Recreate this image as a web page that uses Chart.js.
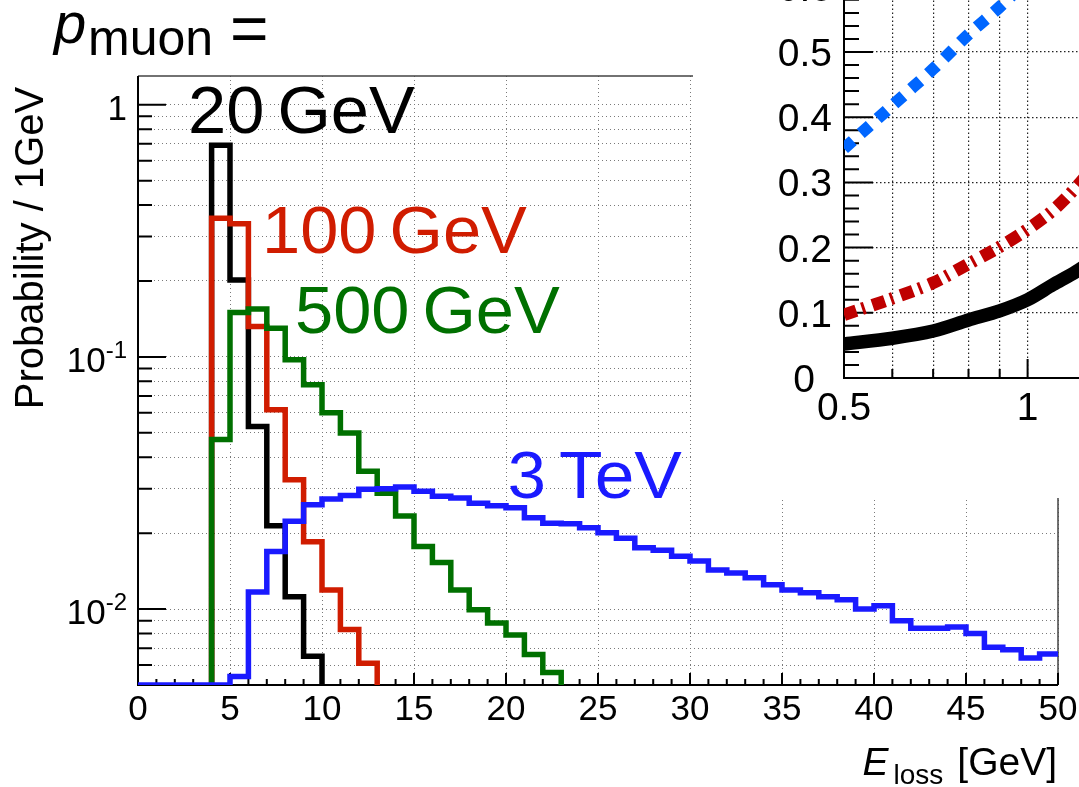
<!DOCTYPE html>
<html>
<head>
<meta charset="utf-8">
<script src="https://cdn.jsdelivr.net/npm/chart.js@4.4.0/dist/chart.umd.min.js"></script>
<style>
  html, body { margin: 0; padding: 0; background: #fff; overflow: hidden; }
  #wrap { position: relative; width: 1079px; height: 787px; overflow: hidden; background: #fff; }
  #main { position: absolute; left: 0; top: 0; }
  #inset { position: absolute; left: 693px; top: -150px; }
</style>
</head>
<body>
<div id="wrap">
  <canvas id="main" width="1079" height="787"></canvas>
  <canvas id="inset" width="520" height="648"></canvas>
</div>
<script>
// Energy loss histograms, 1 GeV bins from 0 to 50 GeV (null = empty bin)
const binLow = 0;
const binWidth = 1;
const nBins = 50;

const prob20GeV = [null, null, null, null, 0.69, 0.202, 0.053, 0.0214, 0.0112, 0.0065];
const prob100GeV = [null, null, null, null, 0.355, 0.337, 0.132, 0.0617, 0.0326, 0.0185, 0.0119, 0.0083, 0.0061];
const prob500GeV = [null, null, null, null, 0.047, 0.150, 0.155, 0.130, 0.0975, 0.0776, 0.060, 0.0499, 0.0352,
  0.0288, 0.0234, 0.0177, 0.0153, 0.0119, 0.00995, 0.0088, 0.0079, 0.0066, 0.0056];
const prob3TeV = [0.005, 0.005, 0.005, 0.005, 0.005, 0.0054, 0.0117, 0.0169, 0.0223, 0.0259, 0.0273, 0.0282,
  0.0299, 0.0300, 0.0305, 0.0293, 0.0280, 0.0276, 0.0263, 0.0257, 0.0252, 0.0230, 0.0219, 0.0218, 0.0210,
  0.0201, 0.0191, 0.0175, 0.0171, 0.0162, 0.0155, 0.0143, 0.0139, 0.0133, 0.0125, 0.0119, 0.0116, 0.0112,
  0.0109, 0.0100, 0.0103, 0.0090, 0.0084, 0.0084, 0.0085, 0.0080, 0.00705, 0.0069, 0.0064, 0.00664];

const yMin = 0.005;
const yMax = 1.3;
const yGridValues = [0.005, 0.006, 0.007, 0.008, 0.009,
  0.01, 0.02, 0.03, 0.04, 0.05, 0.06, 0.07, 0.08, 0.09,
  0.1, 0.2, 0.3, 0.4, 0.5, 0.6, 0.7, 0.8, 0.9, 1];
const yLabelValues = [1, 0.1, 0.01];
const yLabelBase = ['1', '10', '10'];
const yLabelExp = ['', '-1', '-2'];
const xTickValues = [0, 5, 10, 15, 20, 25, 30, 35, 40, 45, 50];

// Curve labels: number, unit and anchor (GeV, probability)
const seriesNames = ['20', '100', '500', '3'];
const seriesUnits = ['GeV', 'GeV', 'GeV', 'TeV'];
const nameX = [2.72, 6.74, 8.53, 20.1];
const nameY = [0.772, 0.258, 0.1244, 0.0275];

// Inset curves
const insetX = [0.5, 0.6, 0.7, 0.8, 0.9, 1.0, 1.1, 1.2, 1.3];
const insetBlack = [0.052, 0.061, 0.072, 0.089, 0.103, 0.12, 0.143, 0.163, 0.185];
const insetRed = [0.097, 0.122, 0.146, 0.175, 0.201, 0.228, 0.257, 0.292, 0.33];
const insetBlue = [0.352, 0.418, 0.474, 0.527, 0.569, 0.61, 0.65, 0.69, 0.73];
const insetYTicks = [0, 0.1, 0.2, 0.3, 0.4, 0.5, 0.6, 0.7, 0.8];
const insetXGrid = [0.5, 0.6, 0.7, 0.8, 0.9, 1, 2];
const insetXLabels = [0.5, 1, 2];

const FONT = '"Liberation Sans", Arial, Helvetica, sans-serif';
const C_BLACK = '#000000';
const C_RED = '#d01c00';
const C_GREEN = '#007000';
const C_BLUE = '#1a1aff';

// histogram outline: step through each bin, dropping to the axis floor at the ends
function outline(values) {
  const pts = [];
  let first = values.findIndex(v => v != null);
  let last = values.length - 1;
  while (values[last] == null) last--;
  const clamp = v => Math.max(v, yMin);
  if (values[first] > yMin) pts.push({ x: binLow + first * binWidth, y: yMin });
  for (let i = first; i <= last; i++) {
    const x0 = binLow + i * binWidth;
    pts.push({ x: x0, y: clamp(values[i]) }, { x: x0 + binWidth, y: clamp(values[i]) });
  }
  if (last < nBins - 1) pts.push({ x: binLow + (last + 1) * binWidth, y: yMin });
  return pts;
}

function histo(values, color) {
  return {
    data: outline(values),
    borderColor: color,
    borderWidth: 5.5,
    pointRadius: 0,
    fill: false,
    tension: 0,
    borderJoinStyle: 'miter',
    borderCapStyle: 'butt'
  };
}

function text(ctx, str, x, y, size, color, align, italic) {
  ctx.font = (italic ? 'italic ' : '') + size + 'px ' + FONT;
  ctx.fillStyle = color;
  ctx.textAlign = align || 'left';
  ctx.textBaseline = 'alphabetic';
  ctx.fillText(str, x, y);
}

// slightly widened text for the big curve labels
function wideText(ctx, str, x, y, size, color, stretch) {
  ctx.save();
  ctx.translate(x, y);
  ctx.scale(stretch, 1);
  text(ctx, str, 0, 0, size, color, 'left');
  ctx.restore();
  ctx.font = size + 'px ' + FONT;
  return ctx.measureText(str).width * stretch;
}

const mainFrame = {
  id: 'mainFrame',
  beforeDatasetsDraw(chart) {
    const { ctx, chartArea: a, scales: { x, y } } = chart;
    ctx.save();
    ctx.strokeStyle = '#444';
    ctx.lineWidth = 1.5;
    ctx.beginPath();
    ctx.moveTo(a.left, a.top);
    ctx.lineTo(a.right, a.top);
    ctx.lineTo(a.right, a.bottom);
    ctx.stroke();

    ctx.strokeStyle = '#000';
    ctx.lineWidth = 2;
    ctx.beginPath();
    yGridValues.forEach(v => {
      const py = y.getPixelForValue(v);
      const len = yLabelValues.includes(v) ? 28 : 14;
      ctx.moveTo(a.left, py);
      ctx.lineTo(a.left + len, py);
    });
    for (let v = 0; v <= 50; v++) {
      const px = x.getPixelForValue(v);
      const len = v % 5 === 0 ? 12 : 6;
      ctx.moveTo(px, a.bottom);
      ctx.lineTo(px, a.bottom - len);
    }
    ctx.stroke();

    ctx.beginPath();
    ctx.moveTo(a.left, a.top);
    ctx.lineTo(a.left, a.bottom);
    ctx.lineTo(a.right, a.bottom);
    ctx.stroke();
    ctx.restore();
  },
  afterDatasetsDraw(chart) {
    const { ctx, chartArea: a, scales: { x, y } } = chart;
    ctx.save();
    // y tick labels (powers of ten)
    yLabelValues.forEach((v, i) => {
      const py = y.getPixelForValue(v);
      let right = a.left - 11;
      if (yLabelExp[i]) {
        ctx.font = '24px ' + FONT;
        const w = ctx.measureText(yLabelExp[i]).width;
        text(ctx, yLabelExp[i], right, py + 1, 24, '#000', 'right');
        right -= w;
      }
      text(ctx, yLabelBase[i], right, py + 15, 35, '#000', 'right');
    });
    // x tick labels
    xTickValues.forEach(v => {
      text(ctx, String(v), x.getPixelForValue(v), 720, 35, '#000', 'center');
    });

    // y axis title
    ctx.save();
    ctx.translate(43, 248);
    ctx.rotate(-Math.PI / 2);
    text(ctx, 'Probability / 1GeV', 0, 0, 40, '#000', 'center');
    ctx.restore();

    // x axis title: E_loss [GeV]
    const right = a.right - 1;
    ctx.font = '39px ' + FONT;
    const wUnit = ctx.measureText('[GeV]').width;
    text(ctx, '[GeV]', right, 775, 39, '#000', 'right');
    const lossRight = right - wUnit - 14;
    ctx.font = '28px ' + FONT;
    const wLoss = ctx.measureText('loss').width;
    text(ctx, 'loss', lossRight, 784, 28, '#000', 'right');
    text(ctx, 'E', lossRight - wLoss - 5, 775, 39, '#000', 'right', true);

    // momentum header
    text(ctx, 'p', 54, 43, 58, '#000', 'left', true);
    text(ctx, 'muon', 88, 55, 50, '#000', 'left');
    text(ctx, '=', 230, 51, 66, '#000', 'left');

    // curve labels
    const colors = [C_BLACK, C_RED, C_GREEN, C_BLUE];
    seriesNames.forEach((n, i) => {
      const px = x.getPixelForValue(nameX[i]);
      const py = y.getPixelForValue(nameY[i]);
      const w = wideText(ctx, n, px, py, 66, colors[i], 1.04);
      wideText(ctx, seriesUnits[i], px + w + 13, py, 66, colors[i], seriesUnits[i] === 'TeV' ? 1.08 : 1.04);
    });
    ctx.restore();
  }
};

new Chart(document.getElementById('main').getContext('2d'), {
  type: 'line',
  data: {
    datasets: [
      histo(prob3TeV, C_BLUE),
      histo(prob500GeV, C_GREEN),
      histo(prob100GeV, C_RED),
      histo(prob20GeV, C_BLACK)
    ]
  },
  options: {
    responsive: false,
    animation: false,
    events: [],
    layout: { padding: { left: 0, top: 76, right: 21, bottom: 0 } },
    plugins: { legend: { display: false }, tooltip: { enabled: false } },
    scales: {
      x: {
        type: 'linear',
        min: 0,
        max: 50,
        afterBuildTicks(s) { s.ticks = xTickValues.map(v => ({ value: v })); },
        afterFit(s) { s.height = 102; },
        ticks: { display: false },
        grid: { color: '#7a7a7a', lineWidth: 1, drawTicks: false },
        border: { display: false, dash: [1, 3] }
      },
      y: {
        type: 'logarithmic',
        min: yMin,
        max: yMax,
        afterBuildTicks(s) { s.ticks = yGridValues.map(v => ({ value: v })); },
        afterFit(s) { s.width = 138; },
        ticks: { display: false },
        grid: { color: '#7a7a7a', lineWidth: 1, drawTicks: false },
        border: { display: false, dash: [1, 3] }
      }
    }
  },
  plugins: [mainFrame]
});

// ---- inset ----
const insetFrame = {
  id: 'insetFrame',
  beforeDraw(chart) {
    const { ctx, width, height } = chart;
    ctx.save();
    ctx.fillStyle = '#fff';
    ctx.fillRect(0, 0, width, height);
    ctx.restore();
  },
  beforeDatasetsDraw(chart) {
    const { ctx, chartArea: a, scales: { x, y } } = chart;
    ctx.save();
    ctx.strokeStyle = '#000';
    ctx.lineWidth = 2;
    ctx.beginPath();
    for (let v = 0; v <= 80; v += 2) {
      const py = y.getPixelForValue(v / 100);
      const len = v % 10 === 0 ? 29 : 15;
      ctx.moveTo(a.left, py);
      ctx.lineTo(a.left + len, py);
    }
    insetXGrid.forEach(v => {
      const px = x.getPixelForValue(v);
      const len = insetXLabels.includes(v) ? 19 : 9;
      ctx.moveTo(px, a.bottom);
      ctx.lineTo(px, a.bottom - len);
    });
    ctx.stroke();
    ctx.beginPath();
    ctx.moveTo(a.left, a.top);
    ctx.lineTo(a.left, a.bottom);
    ctx.lineTo(a.right, a.bottom);
    ctx.stroke();
    ctx.restore();
  },
  afterDatasetsDraw(chart) {
    const { ctx, chartArea: a, scales: { x, y } } = chart;
    ctx.save();
    insetYTicks.forEach(v => {
      const py = y.getPixelForValue(v);
      if (v === 0) text(ctx, '0', a.left - 29, py + 14, 39, '#000', 'right');
      else text(ctx, v.toFixed(1), a.left - 12, py + 14, 39, '#000', 'right');
    });
    insetXLabels.forEach(v => {
      text(ctx, String(v), x.getPixelForValue(v), a.bottom + 42, 39, '#000', 'center');
    });
    ctx.restore();
  }
};

function insetLine(values, color, width, dash) {
  return {
    data: insetX.map((v, i) => ({ x: v, y: values[i] })),
    borderColor: color,
    borderWidth: width,
    borderDash: dash,
    pointRadius: 0,
    fill: false,
    tension: 0.3,
    borderCapStyle: 'butt'
  };
}

new Chart(document.getElementById('inset').getContext('2d'), {
  type: 'line',
  data: {
    datasets: [
      insetLine(insetBlue, '#0066ff', 12, [12, 10.5]),
      insetLine(insetRed, '#bf0000', 12.5, [13, 6, 3, 8]),
      insetLine(insetBlack, '#000000', 13.5, [])
    ]
  },
  options: {
    responsive: false,
    animation: false,
    events: [],
    layout: { padding: { left: 0, top: 6.4, right: 1.8, bottom: 0 } },
    plugins: { legend: { display: false }, tooltip: { enabled: false } },
    scales: {
      x: {
        type: 'logarithmic',
        min: 0.5,
        max: 2,
        afterBuildTicks(s) { s.ticks = insetXGrid.map(v => ({ value: v })); },
        afterFit(s) { s.height = 120; },
        ticks: { display: false },
        grid: { color: '#222', lineWidth: 1.2, drawTicks: false },
        border: { display: false, dash: [1.5, 2.5] }
      },
      y: {
        type: 'linear',
        min: 0,
        max: 0.8,
        afterBuildTicks(s) { s.ticks = insetYTicks.map(v => ({ value: v })); },
        afterFit(s) { s.width = 151; },
        ticks: { display: false },
        grid: { color: '#222', lineWidth: 1.2, drawTicks: false },
        border: { display: false, dash: [1.5, 2.5] }
      }
    }
  },
  plugins: [insetFrame]
});
</script>
</body>
</html>
